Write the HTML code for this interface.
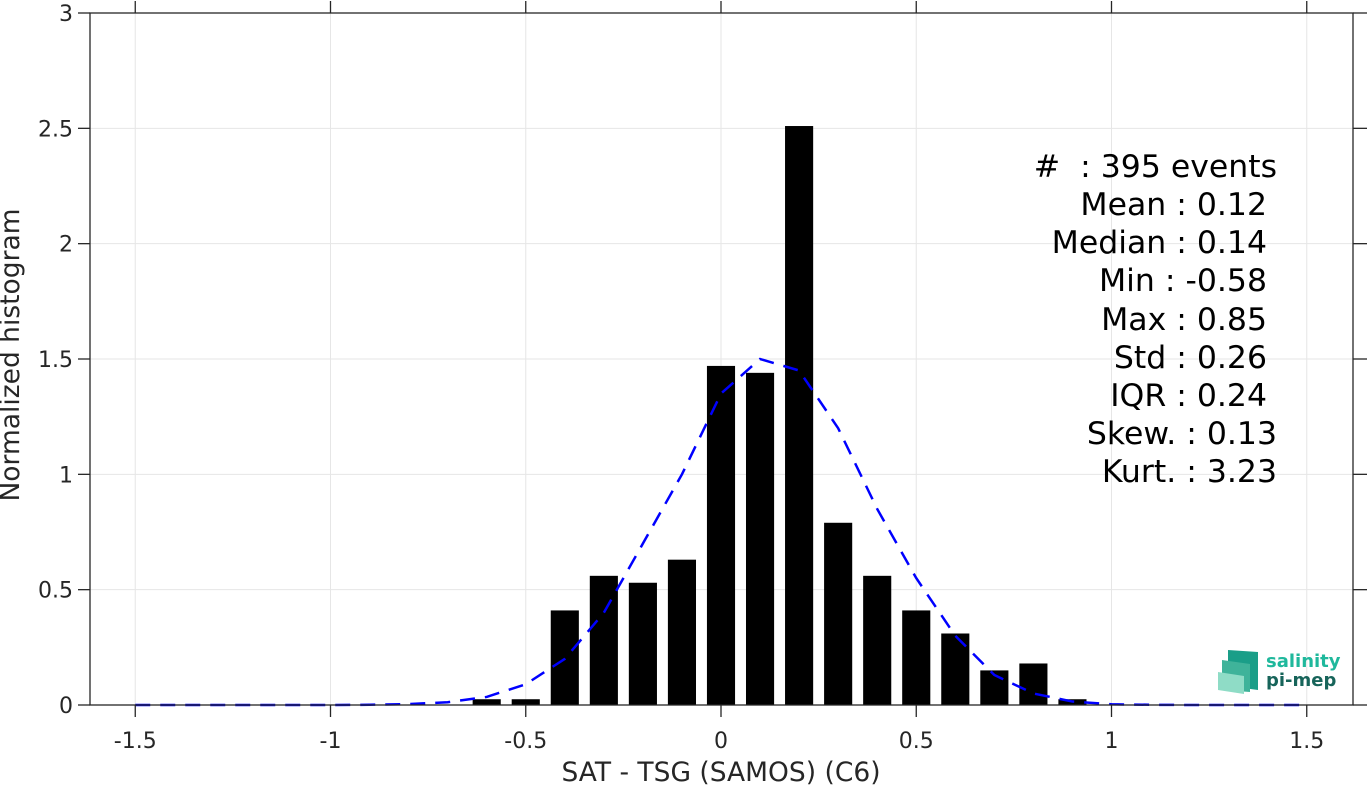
<!DOCTYPE html>
<html><head><meta charset="utf-8"><style>
body{margin:0;background:#fff;}
svg{display:block;font-family:"DejaVu Sans","Liberation Sans",sans-serif;}
</style></head><body>
<svg id="chart" width="1367" height="785" xmlns="http://www.w3.org/2000/svg">
<g id="grid"></g>
<g id="bars"></g>
<g id="curve"></g>
<g id="axes"></g>
<text x="721" y="781" font-size="26.5" text-anchor="middle" fill="#262626">SAT - TSG (SAMOS) (C6)</text>
<text transform="translate(19,355) rotate(-90)" font-size="26.5" text-anchor="middle" fill="#262626">Normalized histogram</text>
<g font-size="31.5" fill="#000" text-anchor="end">
<text x="1277" y="177" xml:space="preserve">#  : 395 events</text>
<text x="1267" y="215">Mean : 0.12</text>
<text x="1267" y="253">Median : 0.14</text>
<text x="1267" y="291">Min : -0.58</text>
<text x="1267" y="330">Max : 0.85</text>
<text x="1267" y="368">Std : 0.26</text>
<text x="1267" y="406">IQR : 0.24</text>
<text x="1277" y="444">Skew. : 0.13</text>
<text x="1277" y="482">Kurt. : 3.23</text>
</g>
<g>
<polygon points="1228,650 1258,652 1258,690 1228,686" fill="#1a9e88"/>
<polygon points="1222,660 1250,664 1250,692 1222,690" fill="#3fb39a"/>
<polygon points="1218,672 1244,676 1244,694 1218,690" fill="#8fdcc6"/>
<text x="1266" y="667" font-size="18" font-weight="bold" fill="#1fb89c">salinity</text>
<text x="1266" y="686" font-size="18" font-weight="bold" fill="#17645a">pi-mep</text>
</g>
</svg>
<script>
const binCenters=[-0.6,-0.5,-0.4,-0.3,-0.2,-0.1,0,0.1,0.2,0.3,0.4,0.5,0.6,0.7,0.8,0.9];
const binValues=[0.025,0.025,0.41,0.56,0.53,0.63,1.47,1.44,2.51,0.79,0.56,0.41,0.31,0.15,0.18,0.025];
const fitX=[-1.5,-1.4,-1.3,-1.2,-1.1,-1.0,-0.9,-0.8,-0.7,-0.6,-0.5,-0.4,-0.3,-0.2,-0.1,0,0.1,0.2,0.3,0.4,0.5,0.6,0.7,0.8,0.9,1.0,1.1,1.2,1.3,1.4,1.5];
const fitY=[0,0,0,0,0,0,0.001,0.004,0.012,0.035,0.09,0.2,0.4,0.7,1.0,1.35,1.5,1.45,1.2,0.85,0.55,0.3,0.13,0.05,0.015,0.003,0.001,0,0,0,0];
const xTicks=[-1.5,-1,-0.5,0,0.5,1,1.5];
const xTickLabels=["-1.5","-1","-0.5","0","0.5","1","1.5"];
const yTicks=[0,0.5,1,1.5,2,2.5,3];
const yTickLabels=["0","0.5","1","1.5","2","2.5","3"];
const L=90,R=1353,T=13,B=705;
const xs=v=>721+v*390.5;
const ys=v=>B-v*(B-T)/3;
const NS="http://www.w3.org/2000/svg";
function mk(tag,attrs,parent){const e=document.createElementNS(NS,tag);for(const k in attrs)e.setAttribute(k,attrs[k]);parent.appendChild(e);return e;}
const grid=document.getElementById('grid'),axes=document.getElementById('axes'),bars=document.getElementById('bars'),curve=document.getElementById('curve');
xTicks.forEach((t,i)=>{
 const g=mk('line',{x1:xs(t),x2:xs(t),y1:T,y2:B,stroke:'#e6e6e6','stroke-width':1},grid);
 
 
 const tk=mk('line',{x1:xs(t),x2:xs(t),y1:B,y2:B+12,stroke:'#262626','stroke-width':1.3},axes);
 
 
 const tk2=mk('line',{x1:xs(t),x2:xs(t),y1:T,y2:T-12,stroke:'#262626','stroke-width':1.3},axes);
 
 
 const lb=mk('text',{x:xs(t),y:B+43,'font-size':22,'text-anchor':'middle',fill:'#262626'},axes);
 lb.textContent=xTickLabels[i];
 
 
});
yTicks.forEach((t,i)=>{
 const g=mk('line',{x1:L,x2:R,y1:ys(t),y2:ys(t),stroke:'#e6e6e6','stroke-width':1},grid);
 
 
 const tk=mk('line',{x1:L-12,x2:L,y1:ys(t),y2:ys(t),stroke:'#262626','stroke-width':1.3},axes);
 
 
 const tk2=mk('line',{x1:R,x2:R+14,y1:ys(t),y2:ys(t),stroke:'#262626','stroke-width':1.3},axes);
 
 
 const lb=mk('text',{x:L-17,y:ys(t)+8,'font-size':22,'text-anchor':'end',fill:'#262626'},axes);
 lb.textContent=yTickLabels[i];
 
 
});
const frame=mk('rect',{x:L,y:T,width:R-L,height:B-T,fill:'none',stroke:'#262626','stroke-width':1.3},axes);


const bw=0.072*390.5;
binCenters.forEach((c,i)=>{
 const r=mk('rect',{x:xs(c)-bw/2,y:ys(binValues[i]),width:bw,height:B-ys(binValues[i]),fill:'#000'},bars);
 
 
});
const p=mk('polyline',{points:fitX.map((x,i)=>xs(x)+','+ys(fitY[i])).join(' '),fill:'none',stroke:'#0000ff','stroke-width':2.5,'stroke-dasharray':'15,10'},curve);


</script>
</body></html>
